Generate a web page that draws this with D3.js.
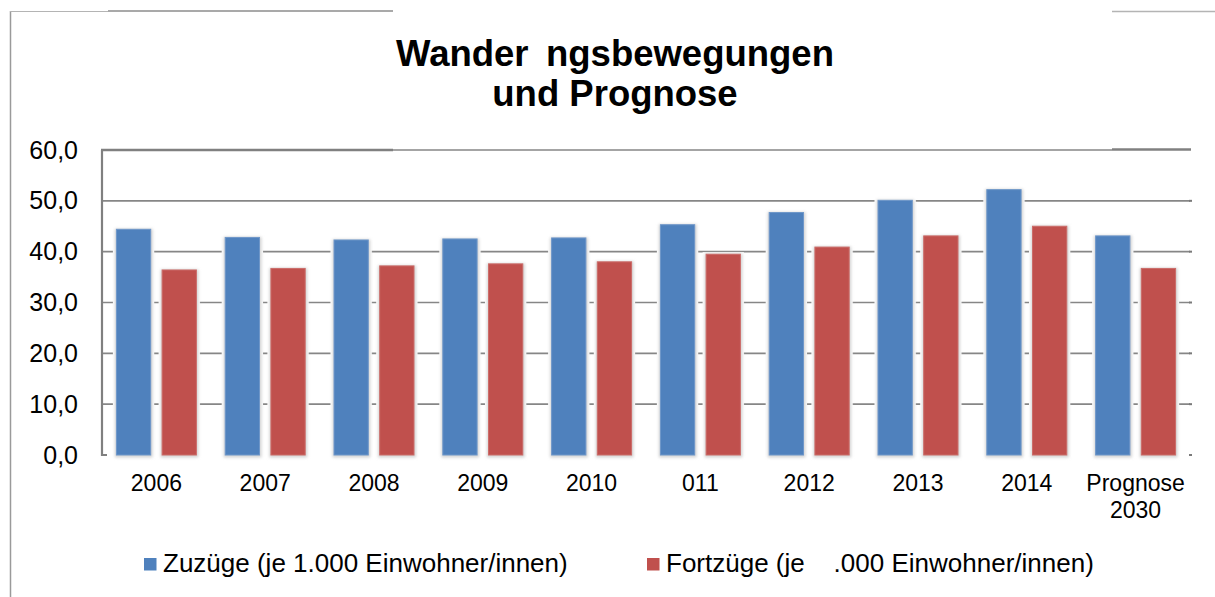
<!DOCTYPE html>
<html lang="de">
	<head>
		<meta charset="utf-8">
		<title>Wanderungsbewegungen und Prognose</title>
		<script src="https://d3js.org/d3.v7.min.js"></script>
		<style type="text/css">
			body {
				margin: 0;
				background: #fff;
			}
			text {
				font-family: "Liberation Sans", Arial, sans-serif;
				fill: #000;
				white-space: pre;
			}
			.title {
				font-size: 36.5px;
				font-weight: bold;
			}
			.ytick {
				font-size: 25px;
			}
			.xtick {
				font-size: 23px;
			}
			.legend text {
				font-size: 26px;
			}
		</style>
	</head>
	<body>
		<script type="text/javascript">
			var w = 1215;
			var h = 597;
			var plot = {left: 102, right: 1190, top: 150, bottom: 455};

			// Data
			var categories = ["2006", "2007", "2008", "2009", "2010", "011", "2012", "2013", "2014", "Prognose 2030"];
			var zuzuege = [44.4, 42.8, 42.3, 42.5, 42.7, 45.3, 47.7, 50.1, 52.2, 43.1];
			var fortzuege = [36.4, 36.7, 37.2, 37.6, 38.0, 39.5, 40.9, 43.1, 45.0, 36.7];
			var yTicks = [0, 10, 20, 30, 40, 50, 60];
			var seriesKeys = ["zuzuege", "fortzuege"];
			var seriesNames = ["Zuzüge (je 1.000 Einwohner/innen)", "Fortzüge (je    .000 Einwohner/innen)"];
			var titleLines = ["Wander \u2009ngsbewegungen", "und Prognose"];

			var dataset = categories.map(function(c, i) {
				return {cat: c, zuzuege: zuzuege[i], fortzuege: fortzuege[i]};
			});

			var xScale = d3.scaleBand()
				.domain(categories)
				.range([plot.left, plot.right])
				.paddingInner(0.265)
				.paddingOuter(0.1325);

			var xInner = d3.scaleBand()
				.domain(seriesKeys)
				.range([0, xScale.bandwidth()])
				.paddingInner(0.25);

			var yScale = d3.scaleLinear()
				.domain([0, 60])
				.range([plot.bottom, plot.top]);

			var colors = d3.scaleOrdinal()
				.domain(seriesKeys)
				.range(["#4F81BD", "#C0504D"]);

			var strokes = d3.scaleOrdinal()
				.domain(seriesKeys)
				.range(["#6f97c9", "#cb6c69"]);

			var de = d3.formatLocale({decimal: ",", thousands: ".", grouping: [3], currency: ["", "€"]});
			var fmt = de.format(".1f");

			var svg = d3.select("body")
				.append("svg")
				.attr("width", w)
				.attr("height", h);

			var defs = svg.append("defs");
			defs.append("filter")
				.attr("id", "glow")
				.attr("x", "-30%").attr("y", "-10%")
				.attr("width", "160%").attr("height", "120%")
				.append("feGaussianBlur")
				.attr("stdDeviation", 1.6);

			// outer frame pieces
			svg.append("line").attr("x1", 10.5).attr("y1", 11).attr("x2", 10.5).attr("y2", h)
				.attr("stroke", "#9a9a9a").attr("stroke-width", 1.5);
			svg.append("line").attr("x1", 10).attr("y1", 11.5).attr("x2", 108).attr("y2", 11.5)
				.attr("stroke", "#b4b4b4").attr("stroke-width", 1);
			svg.append("line").attr("x1", 108).attr("y1", 11).attr("x2", 393).attr("y2", 11)
				.attr("stroke", "#8c8c8c").attr("stroke-width", 1.5);
			svg.append("line").attr("x1", 1112).attr("y1", 11.5).attr("x2", w).attr("y2", 11.5)
				.attr("stroke", "#b4b4b4").attr("stroke-width", 1.5);

			// title
			svg.append("text")
				.attr("class", "title")
				.attr("text-anchor", "middle")
				.selectAll("tspan")
				.data(titleLines)
				.enter()
				.append("tspan")
				.attr("x", 615)
				.attr("y", function(d, i) { return 66 + i * 40; })
				.text(function(d) { return d; });

			// gridlines
			svg.append("g")
				.selectAll("line")
				.data(yTicks.filter(function(d) { return d > 0 && d < 60; }))
				.enter()
				.append("line")
				.attr("x1", plot.left)
				.attr("x2", plot.right)
				.attr("y1", function(d) { return yScale(d); })
				.attr("y2", function(d) { return yScale(d); })
				.attr("stroke", "#868686")
				.attr("stroke-width", 1.6);

			// small tick marks on the right side
			svg.append("g")
				.selectAll("rect")
				.data(yTicks.slice(0, 6))
				.enter()
				.append("rect")
				.attr("x", plot.right - 1)
				.attr("y", function(d) { return yScale(d) - 1; })
				.attr("width", 3)
				.attr("height", 2)
				.attr("fill", "#7a7a7a");

			// top border of plot area
			svg.append("line").attr("x1", 393).attr("y1", yScale(60)).attr("x2", 1112).attr("y2", yScale(60))
				.attr("stroke", "#868686").attr("stroke-width", 1.5);
			svg.append("line").attr("x1", plot.left - 1).attr("y1", yScale(60)).attr("x2", 393).attr("y2", yScale(60))
				.attr("stroke", "#808080").attr("stroke-width", 2.5);
			svg.append("line").attr("x1", 1112).attr("y1", yScale(60) - 0.5).attr("x2", plot.right + 1).attr("y2", yScale(60) - 0.5)
				.attr("stroke", "#808080").attr("stroke-width", 2.5);

			// left axis line with foot
			svg.append("path")
				.attr("d", "M" + plot.left + "," + yScale(60) + "V" + yScale(0) + "H" + (plot.left + 5))
				.attr("fill", "none")
				.attr("stroke", "#808080")
				.attr("stroke-width", 2.2);

			// y tick labels
			svg.append("g")
				.selectAll("text")
				.data(yTicks)
				.enter()
				.append("text")
				.attr("class", "ytick")
				.attr("x", 78)
				.attr("y", function(d) { return yScale(d) + 8.5; })
				.attr("text-anchor", "end")
				.text(function(d) { return fmt(d); });

			// bars
			var groups = svg.append("g")
				.selectAll("g")
				.data(dataset)
				.enter()
				.append("g")
				.attr("transform", function(d) { return "translate(" + xScale(d.cat) + ",0)"; });

			var cells = groups.selectAll("g")
				.data(function(d) {
					return seriesKeys.map(function(k) { return {key: k, value: d[k]}; });
				})
				.enter()
				.append("g");

			// white gap + soft shadow around each bar
			cells.append("rect")
				.attr("x", function(d) { return xInner(d.key) - 3.5; })
				.attr("y", function(d) { return yScale(d.value) - 2; })
				.attr("width", xInner.bandwidth() + 7)
				.attr("height", function(d) { return yScale(0) - yScale(d.value) + 5; })
				.attr("fill", "#fff");
			cells.append("rect")
				.attr("x", function(d) { return xInner(d.key) - 1.5; })
				.attr("y", function(d) { return yScale(d.value) - 0.5; })
				.attr("width", xInner.bandwidth() + 3.5)
				.attr("height", function(d) { return yScale(0) - yScale(d.value) + 3; })
				.attr("fill", "#d2d2d2")
				.attr("filter", "url(#glow)");

			cells.append("rect")
				.attr("x", function(d) { return xInner(d.key); })
				.attr("y", function(d) { return yScale(d.value); })
				.attr("width", xInner.bandwidth())
				.attr("height", function(d) { return yScale(0) - yScale(d.value); })
				.attr("fill", function(d) { return colors(d.key); })
				.attr("stroke", function(d) { return strokes(d.key); })
				.attr("stroke-width", 1);

			// x labels
			svg.append("g")
				.selectAll("text")
				.data(categories)
				.enter()
				.append("text")
				.attr("class", "xtick")
				.attr("text-anchor", "middle")
				.each(function(d) {
					var parts = d.split(" ");
					var cx = xScale(d) + xScale.bandwidth() / 2;
					d3.select(this).selectAll("tspan")
						.data(parts)
						.enter()
						.append("tspan")
						.attr("x", cx)
						.attr("y", function(p, i) { return 491 + i * 26.5; })
						.text(function(p) { return p; });
				});

			// legend
			var legendX = [144, 647];
			var legend = svg.selectAll(".legend")
				.data(seriesKeys)
				.enter()
				.append("g")
				.attr("class", "legend")
				.attr("transform", function(d, i) { return "translate(" + legendX[i] + ",558)"; });

			legend.append("rect")
				.attr("width", 12.5)
				.attr("height", 12.5)
				.attr("fill", function(d) { return colors(d); });

			legend.append("text")
				.attr("x", 19)
				.attr("y", 14)
				.text(function(d, i) { return seriesNames[i]; });
		</script>
	</body>
</html>
